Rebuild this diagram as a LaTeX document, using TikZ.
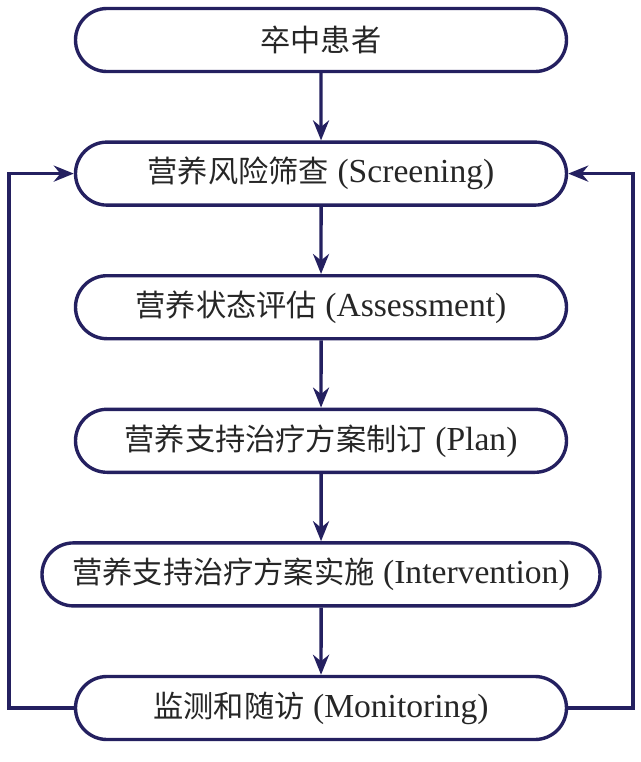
\documentclass[tikz,border=0pt]{standalone}
\usepackage{fontspec}
\setmainfont{Liberation Serif}
\newfontfamily\cjk{Noto Sans CJK SC}[Scale=0.9]
\usepackage{xcolor}
\usepackage{tikz}
\usetikzlibrary{shapes.misc,arrows.meta,positioning}

\definecolor{navy}{RGB}{36,32,96}

\begin{document}
\begin{tikzpicture}[
    stage/.style={rounded rectangle, draw=navy, line width=1.7pt, minimum width=245.5pt, minimum height=31.5pt, inner sep=0pt, font=\fontsize{16.8}{18}\selectfont, text=black!85},
    arrow/.style={-{Stealth[length=10pt,width=8pt]}, line width=1.7pt, navy},
    node distance=33.6pt
]
    \useasboundingbox (0,0) rectangle (320.5pt,-381pt);

    \node[stage] (patient) at (160.5pt,-20pt) {\cjk 卒中患者};
    \node[stage, below=of patient] (screen) {{\cjk 营养风险筛查} (Screening)};
    \node[stage, below=of screen] (assess) {{\cjk 营养状态评估} (Assessment)};
    \node[stage, below=of assess] (plan) {{\cjk 营养支持治疗方案制订} (Plan)};
    \node[stage, below=of plan, minimum width=279pt] (interv) {{\cjk 营养支持治疗方案实施} (Intervention)};
    \node[stage, below=of interv] (monitor) {{\cjk 监测和随访} (Monitoring)};

    \draw[arrow] (patient) -- (screen);
    \draw[arrow] (screen) -- (assess);
    \draw[arrow] (assess) -- (plan);
    \draw[arrow] (plan) -- (interv);
    \draw[arrow] (interv) -- (monitor);

    % feedback loops
    \coordinate (lx) at (4.5pt,0);
    \coordinate (rx) at (316.5pt,0);
    \draw[arrow] (monitor.west) -- (lx |- monitor.west) -- (lx |- screen.west) -- (screen.west);
    \draw[arrow] (monitor.east) -- (rx |- monitor.east) -- (rx |- screen.east) -- (screen.east);
\end{tikzpicture}
\end{document}
